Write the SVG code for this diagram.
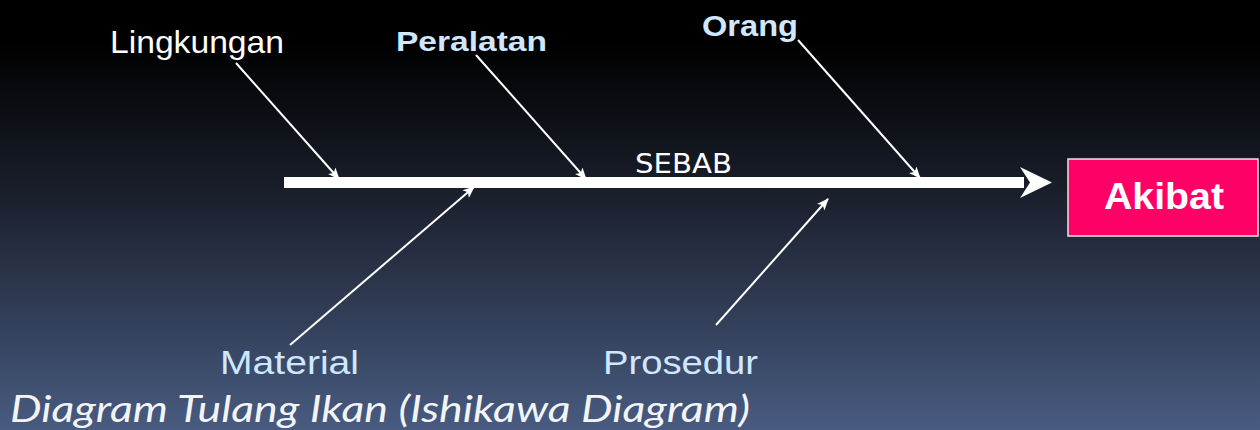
<svg xmlns="http://www.w3.org/2000/svg" width="1260" height="430" viewBox="0 0 1260 430">
  <defs>
    <linearGradient id="bg" x1="0" y1="0" x2="0" y2="1">
      <stop offset="0" stop-color="#000000"/>
      <stop offset="0.1" stop-color="#000000"/>
      <stop offset="0.45" stop-color="#1a1f2c"/>
      <stop offset="1" stop-color="#485b80"/>
    </linearGradient>
    <marker id="head" viewBox="0 0 12 10" refX="11" refY="5" markerWidth="13" markerHeight="10" markerUnits="userSpaceOnUse" orient="auto">
      <path d="M0,0 L12,5 L0,10 L3,5 z" fill="#ffffff"/>
    </marker>
    <style>
      .bone { stroke: #ffffff; stroke-width: 2; fill: none; marker-end: url(#head); }
      .lbl { font-family: "Liberation Sans", Arial, sans-serif; }
      .blue { fill: #cfe7ff; }
      .white { fill: #ffffff; }
      .bold { font-weight: bold; }
    </style>
  </defs>

  <rect x="0" y="0" width="1260" height="430" fill="url(#bg)"/>

  <!-- spine with head -->
  <g id="spine">
    <rect x="284" y="177" width="740" height="11" fill="#ffffff"/>
    <polygon points="1052,182.5 1020,198 1030,182.5 1020,167" fill="#ffffff"/>
    <text x="635" y="173" font-family="DejaVu Sans, sans-serif" font-size="26" fill="#ffffff" textLength="97" lengthAdjust="spacingAndGlyphs">SEBAB</text>
  </g>

  <!-- cause branches -->
  <g id="connectors">
    <line class="bone" x1="236" y1="63" x2="339" y2="179"/>
    <line class="bone" x1="476" y1="55" x2="586" y2="179"/>
    <line class="bone" x1="798" y1="40" x2="920" y2="178"/>
    <line class="bone" x1="290" y1="345" x2="474" y2="187"/>
    <line class="bone" x1="716" y1="325" x2="828" y2="199"/>
  </g>

  <g id="lingkungan">
    <text class="lbl white" x="110" y="53" font-size="32" textLength="174" lengthAdjust="spacingAndGlyphs">Lingkungan</text>
  </g>
  <g id="peralatan">
    <text class="lbl blue bold" x="396" y="51" font-size="28" textLength="151" lengthAdjust="spacingAndGlyphs">Peralatan</text>
  </g>
  <g id="orang">
    <text class="lbl blue bold" x="702" y="36" font-size="29" textLength="96" lengthAdjust="spacingAndGlyphs">Orang</text>
  </g>
  <g id="material">
    <text class="lbl blue" x="220" y="374" font-size="34" textLength="139" lengthAdjust="spacingAndGlyphs">Material</text>
  </g>
  <g id="prosedur">
    <text class="lbl blue" x="603" y="374" font-size="34" textLength="155" lengthAdjust="spacingAndGlyphs">Prosedur</text>
  </g>

  <g id="akibat">
    <rect x="1068" y="159" width="190" height="77" fill="#ff0066" stroke="#e6e6e6" stroke-width="1.5"/>
    <text class="lbl white bold" x="1164" y="209" font-size="36" text-anchor="middle" textLength="120" lengthAdjust="spacingAndGlyphs">Akibat</text>
  </g>

  <text x="10" y="422" font-family="Lato, 'Open Sans', sans-serif" font-style="italic" font-size="36" fill="#f2f4f8" textLength="740" lengthAdjust="spacingAndGlyphs">Diagram Tulang Ikan (Ishikawa Diagram)</text>
</svg>
